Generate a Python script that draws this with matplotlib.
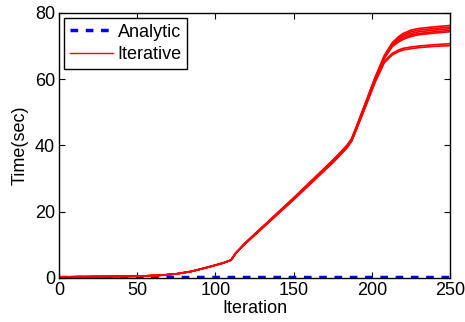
import matplotlib
matplotlib.use("Agg")
import matplotlib.pyplot as plt

plt.rcParams['font.family'] = ['Liberation Sans', 'DejaVu Sans']

iterations = [0, 50, 65, 75, 85, 95, 105, 110, 113, 119, 150, 176, 184, 187,
              190, 195, 202, 208, 213, 217, 220, 225, 230, 240, 250]

run1 = [0.3, 0.5, 0.8, 1.2, 2.0, 3.2, 4.5, 5.4, 7.5, 10.6, 24.2, 36.0, 40.0, 42.0,
        45.6, 51.8, 60.5, 67.2, 71.0, 72.8, 73.8, 74.8, 75.3, 75.8, 76.2]
run2 = [0.3, 0.5, 0.8, 1.2, 2.0, 3.2, 4.5, 5.4, 7.5, 10.5, 24.1, 35.9, 39.9, 41.9,
        45.4, 51.6, 60.3, 67.0, 70.7, 72.4, 73.3, 74.3, 74.8, 75.3, 75.7]
run3 = [0.3, 0.5, 0.8, 1.2, 2.0, 3.2, 4.5, 5.4, 7.5, 10.5, 24.0, 35.8, 39.8, 41.8,
        45.3, 51.4, 60.1, 66.8, 70.4, 72.0, 72.9, 73.8, 74.3, 74.8, 75.2]
run4 = [0.3, 0.5, 0.8, 1.2, 2.0, 3.2, 4.5, 5.4, 7.5, 10.4, 23.9, 35.6, 39.6, 41.6,
        45.1, 51.2, 59.9, 66.5, 70.1, 71.6, 72.4, 73.3, 73.8, 74.3, 74.7]
run5 = [0.3, 0.5, 0.8, 1.2, 2.0, 3.2, 4.5, 5.4, 7.5, 10.4, 23.8, 35.5, 39.5, 41.5,
        45.0, 51.0, 59.7, 66.3, 69.8, 71.2, 72.0, 72.9, 73.4, 73.9, 74.3]
run6 = [0.3, 0.5, 0.8, 1.2, 2.0, 3.2, 4.5, 5.4, 7.5, 10.3, 23.7, 35.3, 39.3, 41.3,
        44.8, 50.7, 59.2, 65.4, 67.8, 68.8, 69.3, 69.7, 70.0, 70.4, 70.7]
run7 = [0.3, 0.5, 0.8, 1.2, 2.0, 3.2, 4.5, 5.4, 7.5, 10.3, 23.6, 35.2, 39.2, 41.2,
        44.6, 50.5, 59.0, 65.0, 67.3, 68.3, 68.8, 69.2, 69.5, 69.9, 70.1]
iterative_runs = [run1, run2, run3, run4, run5, run6, run7]

analytic_x = [0, 250]
analytic_y = [0.3, 0.3]

xticks = [0, 50, 100, 150, 200, 250]
yticks = [0, 20, 40, 60, 80]

fig = plt.figure(figsize=(4.65, 3.22), dpi=100)
ax = fig.add_axes([0.127, 0.137, 0.841, 0.823])

ax.plot(analytic_x, analytic_y, color='#0000ff', linestyle='--', linewidth=2.5,
        dashes=(2.2, 2.2), label='Analytic')
for i, run in enumerate(iterative_runs):
    ax.plot(iterations, run, color='#ff0000', linewidth=1.2,
            label='Iterative' if i == 0 else None)

ax.set_xlim(0, 250)
ax.set_ylim(0, 80)
ax.set_xticks(xticks)
ax.set_yticks(yticks)
ax.tick_params(direction='in', top=True, right=True, labelsize=13, length=4,
               width=0.8, pad=3)
for s in ax.spines.values():
    s.set_linewidth(1.0)
ax.set_xlabel('Iteration', fontsize=13, labelpad=1)
ax.set_ylabel('Time(sec)', fontsize=13, labelpad=4)

leg = ax.legend(loc='upper left', fontsize=13, frameon=True, fancybox=False,
                edgecolor='black', framealpha=1, borderpad=0.3,
                handlelength=2.4, handletextpad=0.25, labelspacing=0.3,
                borderaxespad=0.3)
leg.get_frame().set_linewidth(1.0)
for line in leg.get_lines():
    if line.get_label() == 'Iterative':
        line.set_linewidth(1.0)

fig.savefig('out.png', dpi=100)
